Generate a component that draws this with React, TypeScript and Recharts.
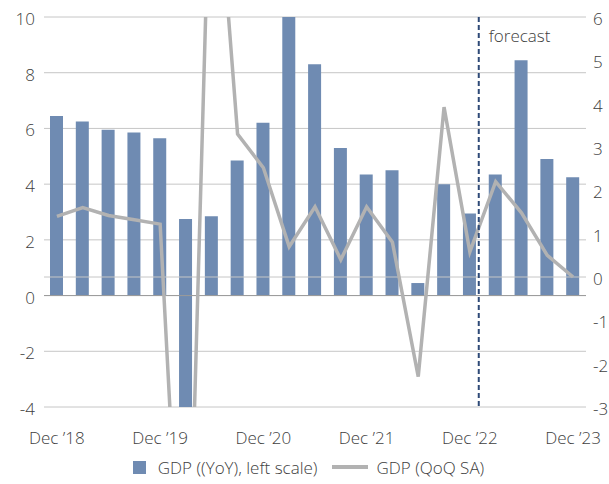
import {
  Bar,
  CartesianGrid,
  ComposedChart,
  Legend,
  Line,
  ReferenceLine,
  XAxis,
  YAxis,
} from "recharts";

const quarters = [
  "Dec ’18", "Mar ’19", "Jun ’19", "Sep ’19",
  "Dec ’19", "Mar ’20", "Jun ’20", "Sep ’20",
  "Dec ’20", "Mar ’21", "Jun ’21", "Sep ’21",
  "Dec ’21", "Mar ’22", "Jun ’22", "Sep ’22",
  "Dec ’22", "Mar ’23", "Jun ’23", "Sep ’23",
  "Dec ’23",
];

// GDP YoY, left scale (Mar '20 bar is drawn as a span in the source chart)
const gdpYoy: (number | [number, number])[] = [
  6.45, 6.25, 5.95, 5.85,
  5.65, [-6.8, 2.75], 2.85, 4.85,
  6.2, 18.3, 8.3, 5.3,
  4.35, 4.5, 0.45, 4.0,
  2.95, 4.35, 8.45, 4.9,
  4.25,
];

// GDP QoQ SA, right scale
const gdpQoq = [
  1.4, 1.6, 1.42, 1.32,
  1.22, -10.0, 11.0, 3.3,
  2.52, 0.7, 1.62, 0.4,
  1.62, 0.8, -2.3, 3.92,
  0.58, 2.2, 1.48, 0.5,
  0.0,
];

const leftTicks = [-4, -2, 0, 2, 4, 6, 8, 10];
const rightTicks = [-3, -2, -1, 0, 1, 2, 3, 4, 5, 6];
const forecastFrom = "Dec ’22";

const BAR = "#6f8bb2";
const LINE = "#b2b2b2";
const TEXT = "#404040";
const FONT_SIZE = 17;

const data = quarters.map((q, i) => ({
  quarter: q,
  yoy: gdpYoy[i],
  qoq: gdpQoq[i],
}));

function ForecastMarker(props: any) {
  const x = props.x1 - 4;
  const top = Math.min(props.y1, props.y2);
  const bottom = Math.max(props.y1, props.y2);
  return (
    <g>
      <line
        x1={x}
        y1={top}
        x2={x}
        y2={bottom}
        stroke="#2e4a77"
        strokeWidth={2}
        strokeDasharray="5 3"
      />
      <text x={x + 10} y={top + 25} fill={TEXT} fontSize={FONT_SIZE}>
        forecast
      </text>
    </g>
  );
}

function LegendContent() {
  return (
    <div
      style={{
        height: 24,
        display: "flex",
        alignItems: "center",
        justifyContent: "center",
        paddingLeft: 8,
        fontSize: FONT_SIZE,
        color: TEXT,
      }}
    >
      <span
        style={{
          width: 13,
          height: 13,
          background: BAR,
          marginRight: 12,
        }}
      />
      <span>GDP ((YoY), left scale)</span>
      <span
        style={{
          width: 36,
          height: 4,
          background: LINE,
          margin: "0 8px 0 15px",
        }}
      />
      <span>GDP (QoQ SA)</span>
    </div>
  );
}

export default function App() {
  return (
    <div
      style={{
        position: "absolute",
        left: 0,
        top: 0,
        width: 609,
        height: 484,
        background: "#fff",
        fontFamily: "'Open Sans', sans-serif",
        fontWeight: 300,
      }}
    >
      <ComposedChart
        width={609}
        height={484}
        data={data}
        margin={{ top: 17, right: 0, left: 0, bottom: 5 }}
      >
        <CartesianGrid
          yAxisId="left"
          vertical={false}
          stroke="#c6c6c6"
        />
        <XAxis
          dataKey="quarter"
          interval={3}
          axisLine={false}
          tickLine={false}
          tickSize={0}
          tickMargin={25}
          height={48}
          tick={{ fill: TEXT, fontSize: FONT_SIZE }}
        />
        <YAxis
          yAxisId="left"
          orientation="left"
          width={44}
          domain={[-4, 10]}
          ticks={leftTicks}
          interval={0}
          allowDataOverflow
          axisLine={false}
          tickLine={false}
          tickSize={0}
          tickMargin={9}
          tick={{ fill: TEXT, fontSize: FONT_SIZE, dy: 2 }}
        />
        <YAxis
          yAxisId="right"
          orientation="right"
          width={23}
          domain={[-3, 6]}
          ticks={rightTicks}
          interval={0}
          allowDataOverflow
          axisLine={false}
          tickLine={false}
          tickSize={0}
          tickMargin={7}
          tick={{ fill: TEXT, fontSize: FONT_SIZE, dy: 2 }}
        />
        <ReferenceLine yAxisId="left" y={0} stroke="#9a9a9a" />
        <Bar
          yAxisId="left"
          dataKey="yoy"
          fill={BAR}
          barSize={13}
          isAnimationActive={false}
        />
        <ReferenceLine yAxisId="right" y={0} stroke="#c6c6c6" />
        <Line
          yAxisId="right"
          dataKey="qoq"
          type="linear"
          stroke={LINE}
          strokeWidth={3.5}
          dot={false}
          activeDot={false}
          isAnimationActive={false}
        />
        <ReferenceLine
          yAxisId="left"
          x={forecastFrom}
          position="end"
          shape={ForecastMarker}
        />
        <Legend verticalAlign="bottom" content={<LegendContent />} />
      </ComposedChart>
    </div>
  );
}
